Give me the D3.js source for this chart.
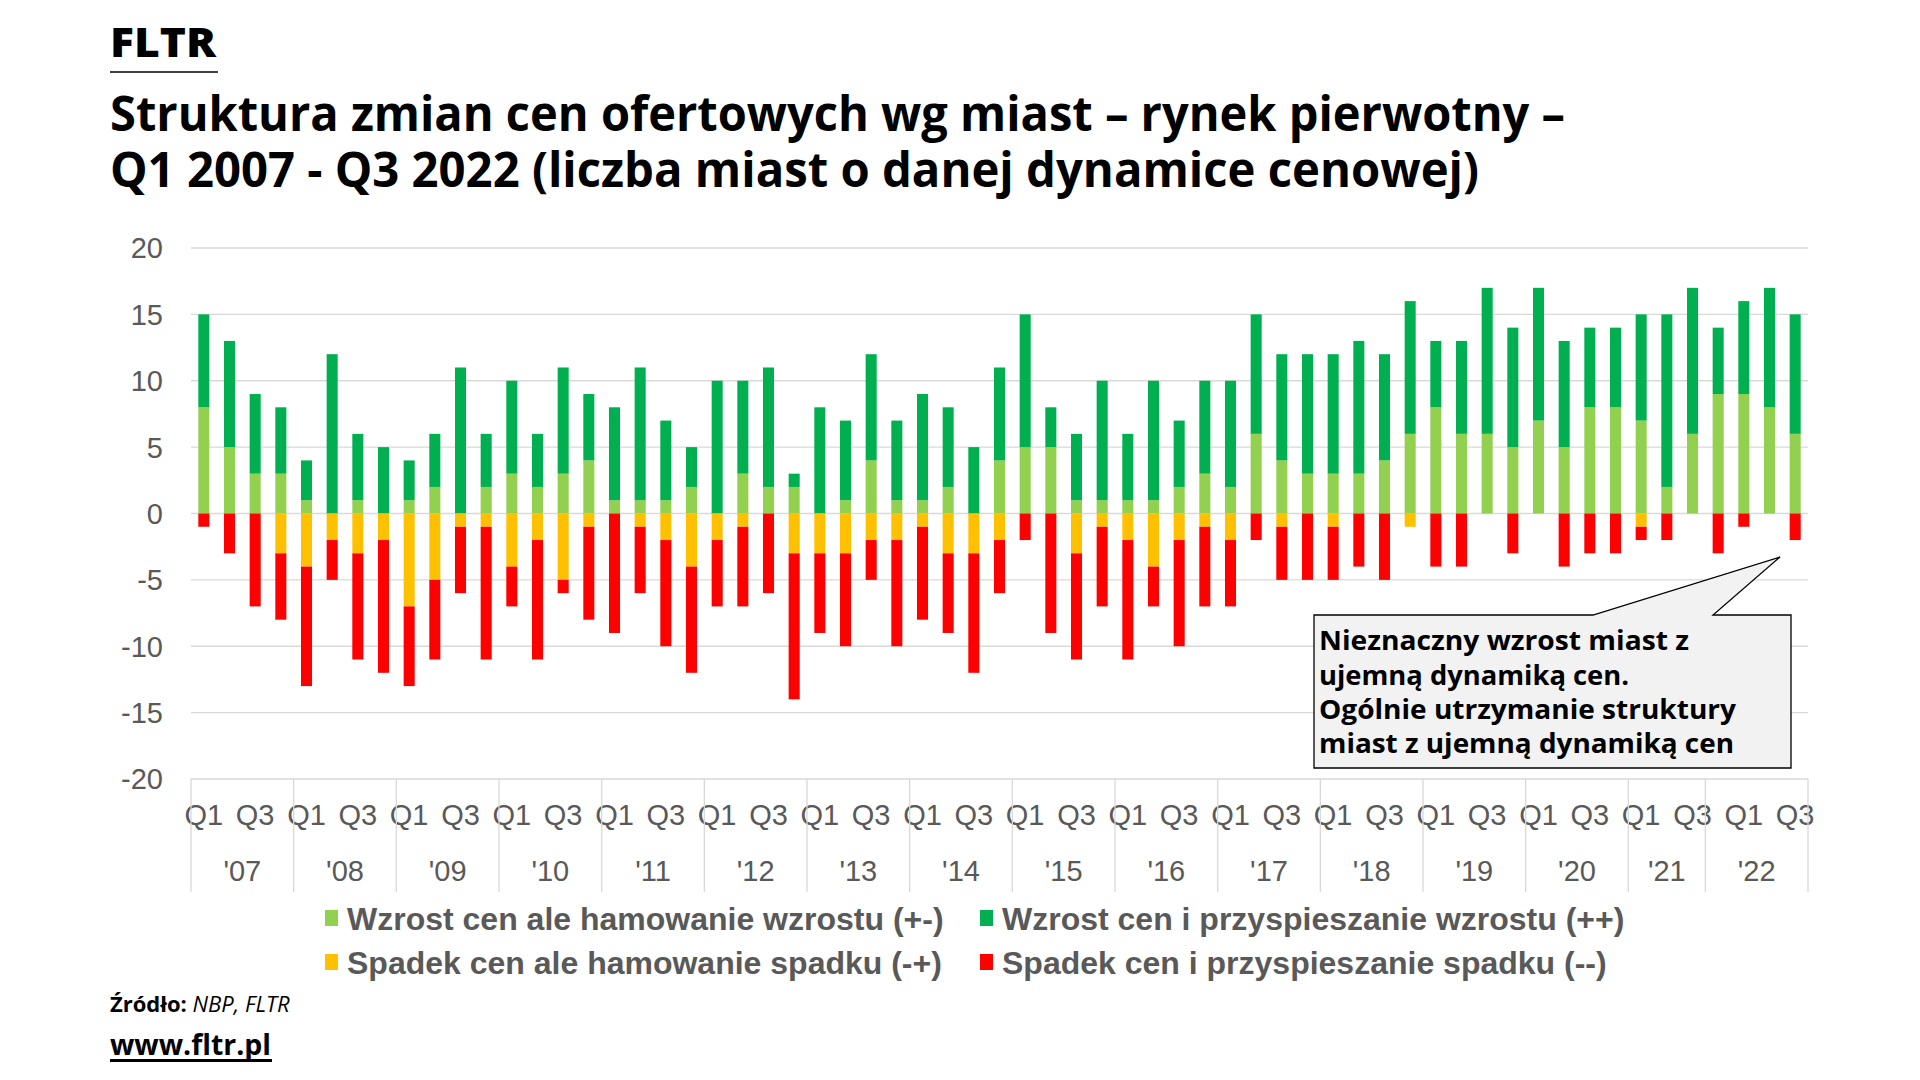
<!DOCTYPE html>
<html><head><meta charset="utf-8">
<script src="https://cdn.jsdelivr.net/npm/d3@7"></script>
<style>html,body{margin:0;padding:0;background:#fff;}svg{display:block;}</style>
</head><body>
<svg id="c" width="1920" height="1080"></svg>
<script>
// ---- data ----
const quarters = ["Q1","Q2","Q3","Q4"];
const yearGroups = ["'07","'08","'09","'10","'11","'12","'13","'14","'15","'16","'17","'18","'19","'20","'21","'22"];
const yearCounts = [4,4,4,4,4,4,4,4,4,4,4,4,4,4,3,4];
const lightGreen = [8,5,3,3,1,0,1,0,1,2,0,2,3,2,3,4,1,1,1,2,0,3,2,2,0,1,4,1,1,2,0,4,5,5,1,1,1,1,2,3,2,6,4,3,3,3,4,6,8,6,6,5,7,5,8,8,7,2,6,9,9,8,6];
const darkGreen  = [7,8,6,5,3,12,5,5,3,4,11,4,7,4,8,5,7,10,6,3,10,7,9,1,8,6,8,6,8,6,5,7,10,3,5,9,5,9,5,7,8,9,8,9,9,10,8,10,5,7,11,9,10,8,6,6,8,13,11,5,7,9,9];
const yellow     = [0,0,0,-3,-4,-2,-3,-2,-7,-5,-1,-1,-4,-2,-5,-1,0,-1,-2,-4,-2,-1,0,-3,-3,-3,-2,-2,-1,-3,-3,-2,0,0,-3,-1,-2,-4,-2,-1,-2,0,-1,0,-1,0,0,-1,0,0,0,0,0,0,0,0,-1,0,0,0,0,0,0];
const red        = [-1,-3,-7,-5,-9,-3,-8,-10,-6,-6,-5,-10,-3,-9,-1,-7,-9,-5,-8,-8,-5,-6,-6,-11,-6,-7,-3,-8,-7,-6,-9,-4,-2,-9,-8,-6,-9,-3,-8,-6,-5,-2,-4,-5,-4,-4,-5,0,-4,-4,0,-3,0,-4,-3,-3,-1,-2,0,-3,-1,0,-2];
const yTicks = [20,15,10,5,0,-5,-10,-15,-20];
const seriesNames = ["Wzrost cen ale hamowanie wzrostu (+-)","Wzrost cen i przyspieszanie wzrostu (++)","Spadek cen ale hamowanie spadku (-+)","Spadek cen i przyspieszanie spadku (--)"];
const seriesColors = ["#92d050","#00b050","#ffc000","#ff0000"];
const titleLines = ["Struktura zmian cen ofertowych wg miast – rynek pierwotny –","Q1 2007 - Q3 2022 (liczba miast o danej dynamice cenowej)"];
const noteLines = ["Nieznaczny wzrost miast z","ujemną dynamiką cen.","Ogólnie utrzymanie struktury","miast z ujemną dynamiką cen"];

// ---- build ----
const n = lightGreen.length;
const table = d3.range(n).map(i => ({i, lg: lightGreen[i], dg: darkGreen[i], ye: yellow[i], re: red[i], q: quarters[i % 4]}));
const keys = ["lg","dg","ye","re"];
const stacked = d3.stack().keys(keys).offset(d3.stackOffsetDiverging)(table);

const svg = d3.select("#c");
const L = 191, R = 1808, T = 248, B = 779;
const x = d3.scaleBand().domain(d3.range(n)).range([L, R]).paddingInner(0.57).paddingOuter(0.285);
const y = d3.scaleLinear().domain([-20, 20]).range([B, T]);
const chartFont = "'Liberation Sans', Arial, sans-serif";
const headFont = "'Open Sans', 'Noto Sans', sans-serif";

// header
svg.append("text").attr("x",110).attr("y",57).attr("font-family",headFont).attr("font-weight",800)
  .attr("font-size",40).attr("fill","#000").attr("textLength",106).attr("lengthAdjust","spacingAndGlyphs").text("FLTR");
svg.append("line").attr("x1",110).attr("x2",218).attr("y1",72).attr("y2",72).attr("stroke","#000").attr("stroke-width",1.5);
const tl = [[131,1455],[187,1369]];
titleLines.forEach((t,k)=>{
  svg.append("text").attr("x",110).attr("y",tl[k][0]).attr("font-family",headFont).attr("font-weight",700)
    .attr("font-size",48).attr("fill","#000").attr("textLength",tl[k][1]).attr("lengthAdjust","spacingAndGlyphs").text(t);
});

// gridlines
svg.append("g").selectAll("line").data(yTicks).join("line")
  .attr("x1",L).attr("x2",R).attr("y1",d=>y(d)).attr("y2",d=>y(d))
  .attr("stroke","#d9d9d9").attr("stroke-width",1.3);

// y labels
svg.append("g").selectAll("text").data(yTicks).join("text")
  .attr("x",163).attr("y",d=>y(d)).attr("dy","0.36em").attr("text-anchor","end")
  .attr("font-family",chartFont).attr("font-size",29).attr("fill","#595959").text(d=>d);

// bars
svg.append("g").selectAll("g").data(stacked).join("g")
  .attr("fill",(d,k)=>seriesColors[k])
  .selectAll("rect").data(d=>d).join("rect")
  .attr("x",d=>x(d.data.i)).attr("width",x.bandwidth())
  .attr("y",d=>y(Math.max(d[0],d[1]))).attr("height",d=>Math.abs(y(d[0])-y(d[1])));

// x axis: quarter labels (every other)
const half = (x.step()-x.bandwidth())/2;
svg.append("g").selectAll("text").data(table.filter(d=>d.i%2===0)).join("text")
  .attr("x",d=>x(d.i)+x.bandwidth()/2).attr("y",815).attr("dy","0.36em").attr("text-anchor","middle")
  .attr("font-family",chartFont).attr("font-size",29).attr("fill","#595959").text(d=>d.q);

// year groups
let cum = 0;
const groups = yearGroups.map((g,k)=>{ const s = cum; cum += yearCounts[k]; return {g, s, e: cum}; });
const bx = i => i >= n ? R : x(i) - half;
svg.append("g").selectAll("line").data([0].concat(groups.map(d=>d.e))).join("line")
  .attr("x1",d=>bx(d)).attr("x2",d=>bx(d)).attr("y1",B).attr("y2",892)
  .attr("stroke","#d9d9d9").attr("stroke-width",1.3);
svg.append("g").selectAll("text").data(groups).join("text")
  .attr("x",d=>(bx(d.s)+bx(d.e))/2).attr("y",871).attr("dy","0.36em").attr("text-anchor","middle")
  .attr("font-family",chartFont).attr("font-size",29).attr("fill","#595959").text(d=>d.g);

// legend
const legPos = [[325,918],[980,918],[325,962],[980,962]];
seriesNames.forEach((s,k)=>{
  const g = svg.append("g").attr("transform",`translate(${legPos[k][0]},${legPos[k][1]})`);
  g.append("rect").attr("x",0).attr("y",-8).attr("width",13).attr("height",16).attr("fill",seriesColors[k]);
  g.append("text").attr("x",22).attr("y",0).attr("dy","0.36em").attr("font-family",chartFont)
    .attr("font-weight",700).attr("font-size",32).attr("fill","#595959").text(s);
});

// annotation callout
const bx0 = 1314, bx1 = 1791, by0 = 615, by1 = 768;
svg.append("path")
  .attr("d",`M${bx0},${by0} L1593,${by0} L1780,557 L1713,${by0} L${bx1},${by0} L${bx1},${by1} L${bx0},${by1} Z`)
  .attr("fill","#f2f2f2").attr("stroke","#000").attr("stroke-width",1.3);
const nb = [[650,370],[685,310],[719,417],[753,415]];
noteLines.forEach((t,k)=>{
  svg.append("text").attr("x",1319).attr("y",nb[k][0]).attr("font-family",headFont).attr("font-weight",700)
    .attr("font-size",26).attr("fill","#000").attr("textLength",nb[k][1]).attr("lengthAdjust","spacingAndGlyphs").text(t);
});

// footer
const src = svg.append("text").attr("x",110).attr("y",1012).attr("font-family",headFont).attr("font-size",22).attr("fill","#000");
src.append("tspan").attr("font-weight",700).text("Źródło: ");
src.append("tspan").attr("font-style","italic").text("NBP, FLTR");
svg.append("text").attr("x",110).attr("y",1055).attr("font-family",headFont).attr("font-weight",700)
  .attr("font-size",29).attr("fill","#000").attr("textLength",161).attr("lengthAdjust","spacingAndGlyphs").text("www.fltr.pl");
svg.append("rect").attr("x",110).attr("y",1059).attr("width",162).attr("height",3).attr("fill","#000");
</script>
</body></html>
